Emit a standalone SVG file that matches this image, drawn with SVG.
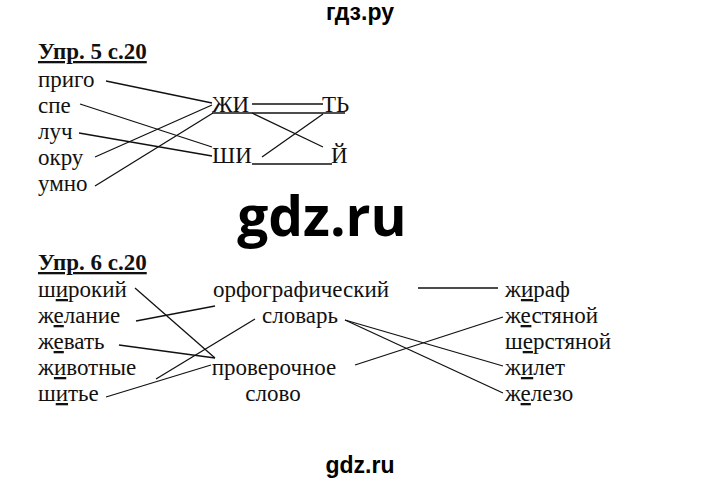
<svg xmlns="http://www.w3.org/2000/svg" width="720" height="483" viewBox="0 0 720 483">
<style>
text{font-family:"Liberation Serif","DejaVu Serif","Times New Roman",serif;font-size:23px;fill:#111}
.t{font-weight:bold;text-decoration:underline}
.u{text-decoration:underline}
.wm{font-family:"Liberation Sans",Arial,sans-serif;font-weight:bold;fill:#000}
.big{font-family:"Open Sans","Liberation Sans",sans-serif;font-weight:bold;fill:#000;font-size:55px}
#connectors line{stroke:#111;stroke-width:1.3;fill:none}
</style>
<rect width="720" height="483" fill="#fff"/>
<text class="wm" x="360" y="20" text-anchor="middle" font-size="22">гдз.ру</text>
<text class="big" x="322" y="236" text-anchor="middle">gdz.ru</text>
<text class="wm" x="360" y="473" text-anchor="middle" font-size="25">gdz.ru</text>

<g id="ex5">
<text class="t" x="38" y="59">Упр. 5 с.20</text>
<g id="w-prigo"><text x="38" y="87">приго</text></g>
<g id="w-spe"><text x="38" y="113">спе</text></g>
<g id="w-luch"><text x="38" y="139">луч</text></g>
<g id="w-okru"><text x="38" y="165">окру</text></g>
<g id="w-umno"><text x="38" y="191">умно</text></g>
<g id="s-zhi"><text x="212" y="112">ЖИ</text></g>
<g id="s-shi"><text x="212" y="163">ШИ</text></g>
<g id="s-t"><text x="322" y="112">ТЬ</text></g>
<g id="s-j"><text x="331" y="163">Й</text></g>
</g>

<g id="ex6">
<text class="t" x="38" y="270">Упр. 6 с.20</text>
<g id="l1"><text x="38" y="297">ш<tspan class="u">и</tspan>рокий</text></g>
<g id="l2"><text x="38" y="323">ж<tspan class="u">е</tspan>лание</text></g>
<g id="l3"><text x="38" y="349">ж<tspan class="u">е</tspan>вать</text></g>
<g id="l4"><text x="38" y="375">ж<tspan class="u">и</tspan>вотные</text></g>
<g id="l5"><text x="38" y="401">ш<tspan class="u">и</tspan>тье</text></g>
<g id="m1"><text x="301" y="297" text-anchor="middle">орфографический</text></g>
<g id="m2"><text x="300" y="323" text-anchor="middle">словарь</text></g>
<g id="m3"><text x="274" y="375" text-anchor="middle">проверочное</text><text x="273" y="401" text-anchor="middle">слово</text></g>
<g id="r1"><text x="505" y="297">ж<tspan class="u">и</tspan>раф</text></g>
<g id="r2"><text x="505" y="323">ж<tspan class="u">е</tspan>стяной</text></g>
<g id="r3"><text x="505" y="349">ш<tspan class="u">е</tspan>рстяной</text></g>
<g id="r4"><text x="505" y="375">ж<tspan class="u">и</tspan>лет</text></g>
<g id="r5"><text x="505" y="401">ж<tspan class="u">е</tspan>лезо</text></g>
</g>

<g id="connectors">
<line x1="106" y1="81" x2="212" y2="103"/>
<line x1="80" y1="104" x2="212" y2="147"/>
<line x1="79" y1="133" x2="212" y2="156"/>
<line x1="95" y1="157" x2="212" y2="105"/>
<line x1="95" y1="186" x2="213" y2="113"/>
<line x1="252" y1="104" x2="323" y2="104"/>
<line x1="212" y1="113" x2="345" y2="113"/>
<line x1="252" y1="113" x2="323" y2="147"/>
<line x1="323" y1="114" x2="262" y2="157"/>
<line x1="252" y1="164" x2="332" y2="164"/>

<line x1="135" y1="288" x2="215" y2="358"/>
<line x1="136" y1="321" x2="215" y2="306"/>
<line x1="119" y1="345" x2="215" y2="358"/>
<line x1="156" y1="379" x2="255" y2="319"/>
<line x1="106" y1="397" x2="211" y2="365"/>
<line x1="418" y1="288" x2="498" y2="288"/>
<line x1="345" y1="320" x2="503" y2="366"/>
<line x1="345" y1="320" x2="503" y2="393"/>
<line x1="355" y1="365" x2="503" y2="317"/>
</g>
</svg>
